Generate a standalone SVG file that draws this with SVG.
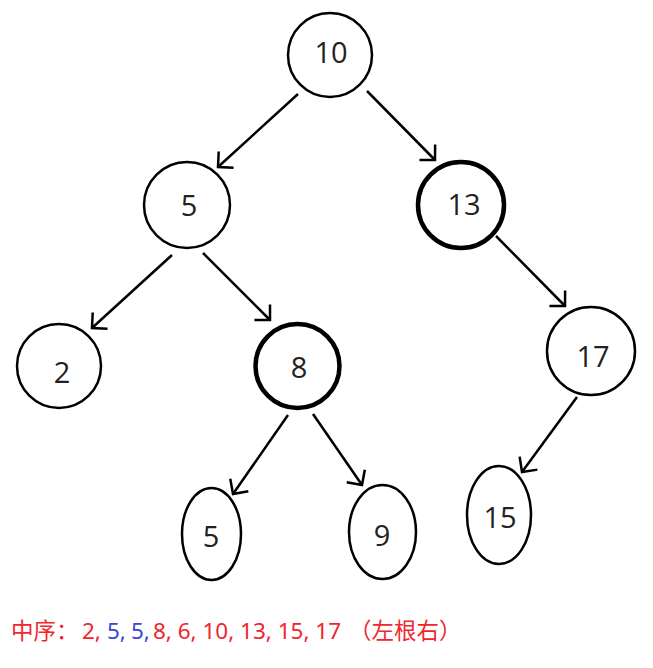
<svg xmlns="http://www.w3.org/2000/svg" width="653" height="668" viewBox="0 0 653 668">
<style>
.n{fill:#fff;stroke:#000;stroke-width:2.5}
.thick{stroke-width:4.5}
.t{font-family:"Open Sans","Noto Sans",sans-serif;font-size:29px;fill:#222;text-anchor:middle}
.e{stroke:#000;stroke-width:2.5;fill:none;marker-end:url(#ah)}
.cap{font-family:"Noto Sans","Noto Sans CJK SC",sans-serif;font-size:22.5px;fill:#f0262f}
.cjk{font-family:"Noto Sans CJK SC",sans-serif}
.b{fill:#3a46d8}
</style>
<defs>
<marker id="ah" markerUnits="userSpaceOnUse" markerWidth="30" markerHeight="30" viewBox="-15 -15 30 30" refX="0" refY="0" orient="auto">
<path d="M-11,-11 L0,0 L-11,11" fill="none" stroke="#000" stroke-width="2.5"/>
</marker>
</defs>
<rect width="653" height="668" fill="#fff"/>
<g id="edges">
<line class="e" x1="298" y1="94" x2="218" y2="167"/>
<line class="e" x1="367" y1="91" x2="435" y2="160"/>
<line class="e" x1="172" y1="255" x2="92" y2="328"/>
<line class="e" x1="203" y1="253" x2="270" y2="320"/>
<line class="e" x1="496" y1="236" x2="565" y2="306"/>
<line class="e" x1="288" y1="415" x2="233" y2="494"/>
<line class="e" x1="313" y1="414" x2="362" y2="485"/>
<line class="e" x1="577" y1="397" x2="522" y2="472"/>
</g>
<g id="n10"><circle class="n" cx="330" cy="55" r="42"/><text class="t" x="331" y="63">10</text></g>
<g id="n5"><circle class="n" cx="187" cy="205" r="43"/><text class="t" x="189" y="216">5</text></g>
<g id="n13"><circle class="n thick" cx="461" cy="205" r="43"/><text class="t" x="464" y="215">13</text></g>
<g id="n2"><circle class="n" cx="59" cy="366" r="42"/><text class="t" x="62" y="383">2</text></g>
<g id="n8"><circle class="n thick" cx="297.5" cy="366" r="42"/><text class="t" x="299" y="378">8</text></g>
<g id="n17"><circle class="n" cx="591" cy="351" r="44"/><text class="t" x="593" y="367">17</text></g>
<g id="n5b"><ellipse class="n" cx="211.5" cy="534" rx="29.5" ry="46"/><text class="t" x="211" y="547">5</text></g>
<g id="n9"><ellipse class="n" cx="382.5" cy="532" rx="33.5" ry="47"/><text class="t" x="382" y="546">9</text></g>
<g id="n15"><ellipse class="n" cx="499" cy="515" rx="32" ry="49"/><text class="t" x="500" y="528">15</text></g>
<g id="caption">
<text class="cap" y="639"><tspan class="cjk" x="11">中序：</tspan><tspan x="82">2,</tspan><tspan class="b" x="107">5,</tspan><tspan class="b" x="131">5,</tspan><tspan x="153">8, 6, 10, 13, 15, 17</tspan><tspan class="cjk" x="349">（左根右）</tspan></text>
</g>
</svg>
